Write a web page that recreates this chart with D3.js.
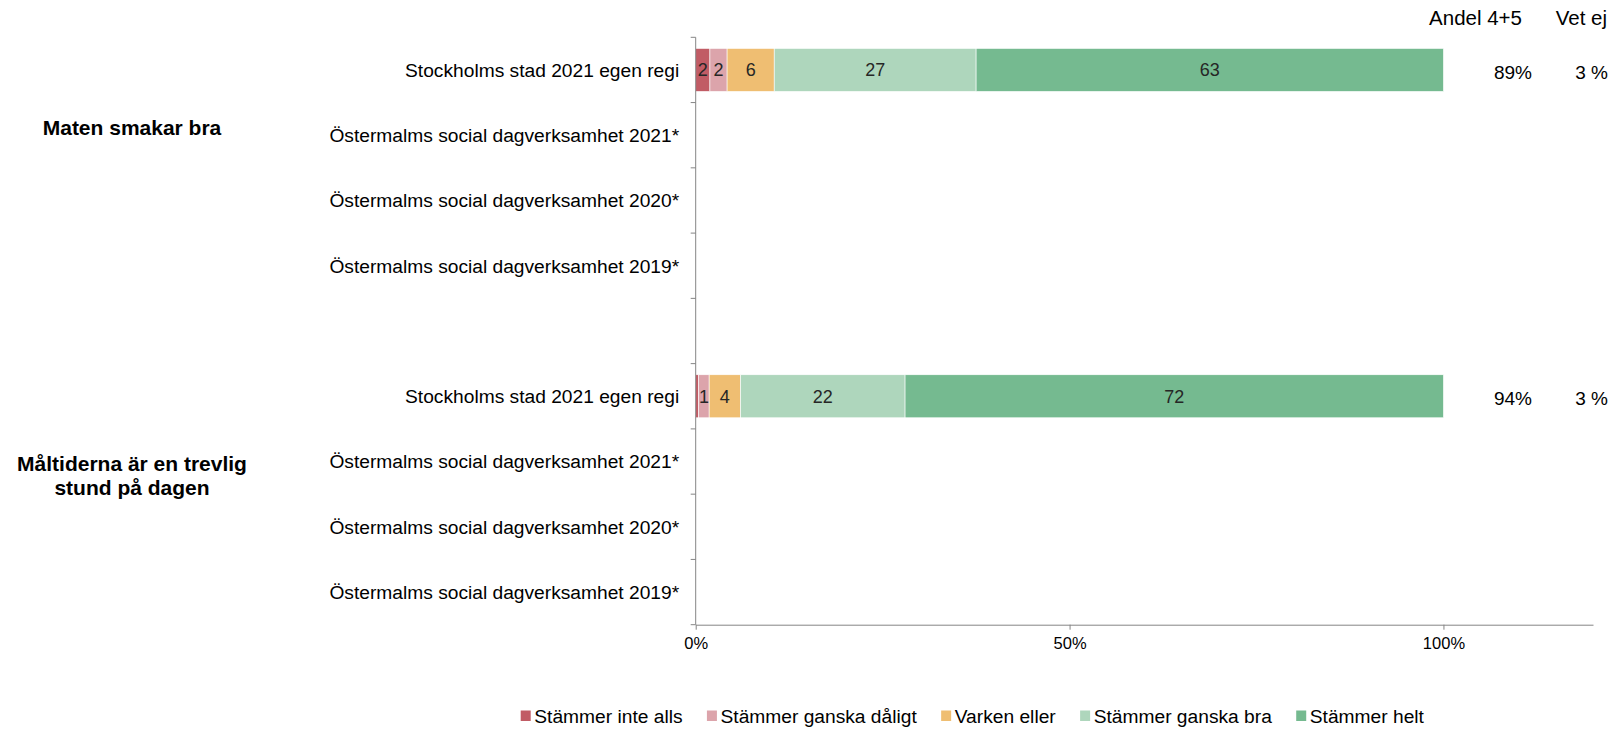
<!DOCTYPE html>
<html>
<head>
<meta charset="utf-8">
<script src="https://cdn.jsdelivr.net/npm/d3@7"></script>
<style>
  body { margin: 0; background: #fff; }
  svg { display: block; font-family: "Liberation Sans", Arial, sans-serif; }
</style>
</head>
<body>
<svg id="chart" width="1618" height="729"></svg>
<script>
// answer categories (stacked left to right)
const answers = ["Stämmer inte alls", "Stämmer ganska dåligt", "Varken eller", "Stämmer ganska bra", "Stämmer helt"]
const colors = ["#c15c65", "#dca4ab", "#efbe72", "#aed6bc", "#75ba90"]

// rows, top to bottom; "" is the empty slot between the two questions
const rowLabels = [
  "Stockholms stad 2021 egen regi",
  "Östermalms social dagverksamhet 2021*",
  "Östermalms social dagverksamhet 2020*",
  "Östermalms social dagverksamhet 2019*",
  "",
  "Stockholms stad 2021 egen regi",
  "Östermalms social dagverksamhet 2021*",
  "Östermalms social dagverksamhet 2020*",
  "Östermalms social dagverksamhet 2019*"
]

// shares per answer for the rows that have data (null = no bar)
const rowValues = [
  [1.9, 2.3, 6.3, 27.0, 62.5],
  null, null, null, null,
  [0.4, 1.4, 4.2, 22.0, 72.0],
  null, null, null
]
const andel45 = [89, null, null, null, null, 94, null, null, null]
const vetEj = [3, null, null, null, null, 3, null, null, null]

const questionLines = [["Maten smakar bra"], ["Måltiderna är en trevlig", "stund på dagen"]]
const questionRow = [1, 6]

const xTicks = [0, 50, 100]

const svg = d3.select("#chart")
const axisColor = "#858585"

const x = d3.scaleLinear().domain([0, 120]).range([695.7, 1593])
const y = d3.scaleBand()
  .domain(d3.range(rowLabels.length))
  .range([37.3, 624.7])
  .paddingInner(0.341)
  .paddingOuter(0.1705)

// bars
const stacks = []
rowValues.forEach((vals, i) => {
  if (!vals) return
  let acc = 0
  vals.forEach((v, k) => {
    stacks.push({ row: i, k, x0: acc, x1: acc + v, v })
    acc += v
  })
})

const bars = svg.append("g").attr("class", "bars")
bars.selectAll("rect")
  .data(stacks)
  .enter()
  .append("rect")
  .attr("x", d => x(d.x0))
  .attr("y", d => y(d.row))
  .attr("width", d => x(d.x1) - x(d.x0))
  .attr("height", y.bandwidth())
  .attr("fill", d => colors[d.k])
  .attr("stroke", "#fff")
  .attr("stroke-width", 0.6)

bars.selectAll("text")
  .data(stacks.filter(d => d.v >= 1))
  .enter()
  .append("text")
  .attr("x", d => x((d.x0 + d.x1) / 2))
  .attr("y", d => y(d.row) + y.bandwidth() / 2)
  .attr("dy", "0.36em")
  .attr("text-anchor", "middle")
  .attr("font-size", 18)
  .attr("fill", "#262626")
  .text(d => Math.round(d.v))

// x axis
const xAxis = svg.append("g")
  .attr("class", "xAxis")
  .attr("transform", `translate(0, ${y.range()[1]})`)
  .call(d3.axisBottom(x).tickValues(xTicks).tickFormat(d => d + "%").tickSize(5).tickSizeOuter(0).tickPadding(8))
xAxis.select(".domain").attr("stroke", axisColor)
xAxis.selectAll(".tick line").attr("stroke", axisColor)
xAxis.selectAll("text").attr("font-size", 16.5).attr("fill", "#000")
  .attr("font-family", "Liberation Sans, Arial, sans-serif")

// y axis: line plus ticks on slot boundaries
const yAxis = svg.append("g").attr("class", "yAxis")
yAxis.append("line")
  .attr("x1", x(0)).attr("x2", x(0))
  .attr("y1", y.range()[0]).attr("y2", y.range()[1])
  .attr("stroke", axisColor)
yAxis.selectAll(".bound")
  .data(d3.range(rowLabels.length + 1))
  .enter()
  .append("line")
  .attr("x1", x(0) - 5).attr("x2", x(0))
  .attr("y1", i => y.range()[0] + i * y.step())
  .attr("y2", i => y.range()[0] + i * y.step())
  .attr("stroke", axisColor)

yAxis.selectAll(".rowLabel")
  .data(rowLabels)
  .enter()
  .append("text")
  .attr("x", x(0) - 16.5)
  .attr("y", (d, i) => y(i) + y.bandwidth() / 2)
  .attr("dy", "0.36em")
  .attr("text-anchor", "end")
  .attr("font-size", 19.2)
  .attr("fill", "#000")
  .text(d => d)

// question labels
questionLines.forEach((lines, q) => {
  const cy = y(questionRow[q]) + y.bandwidth() / 2
  const lh = 24.5
  const top = q === 0 ? cy - 8 : cy + 1.5
  svg.append("text")
    .attr("class", "question")
    .attr("text-anchor", "middle")
    .attr("font-size", 21)
    .attr("font-weight", "bold")
    .attr("fill", "#000")
    .selectAll("tspan")
    .data(lines)
    .enter()
    .append("tspan")
    .attr("x", 132)
    .attr("y", (d, i) => top + i * lh)
    .attr("dy", "0.36em")
    .text(d => d)
})

// side columns
const colAndel = 1532
const colVet = 1608
svg.append("text").attr("x", colAndel - 10).attr("y", 18).attr("dy", "0.36em")
  .attr("text-anchor", "end").attr("font-size", 20.5).attr("fill", "#000").text("Andel 4+5")
svg.append("text").attr("x", colVet - 1).attr("y", 18).attr("dy", "0.36em")
  .attr("text-anchor", "end").attr("font-size", 20.5).attr("fill", "#000").text("Vet ej")

svg.append("g").selectAll("text")
  .data(andel45.map((v, i) => ({ v, i })).filter(d => d.v !== null))
  .enter().append("text")
  .attr("x", colAndel)
  .attr("y", d => y(d.i) + y.bandwidth() / 2 + 2)
  .attr("dy", "0.36em")
  .attr("text-anchor", "end")
  .attr("font-size", 19)
  .attr("fill", "#000")
  .text(d => d.v + "%")

svg.append("g").selectAll("text")
  .data(vetEj.map((v, i) => ({ v, i })).filter(d => d.v !== null))
  .enter().append("text")
  .attr("x", colVet)
  .attr("y", d => y(d.i) + y.bandwidth() / 2 + 2)
  .attr("dy", "0.36em")
  .attr("text-anchor", "end")
  .attr("font-size", 19)
  .attr("fill", "#000")
  .text(d => d.v + " %")

// legend
const legend = svg.append("g").attr("class", "legend").attr("transform", "translate(520.7, 716)")
let lx = 0
answers.forEach((a, k) => {
  const item = legend.append("g").attr("transform", `translate(${lx}, 0)`)
  item.append("rect").attr("x", 0).attr("y", -5.5).attr("width", 10).attr("height", 10.5).attr("fill", colors[k])
  const t = item.append("text").attr("x", 13.6).attr("dy", "0.36em")
    .attr("font-size", 19.2).attr("fill", "#000").text(a)
  lx += 13.6 + t.node().getComputedTextLength() + 24.4
})
</script>
</body>
</html>
